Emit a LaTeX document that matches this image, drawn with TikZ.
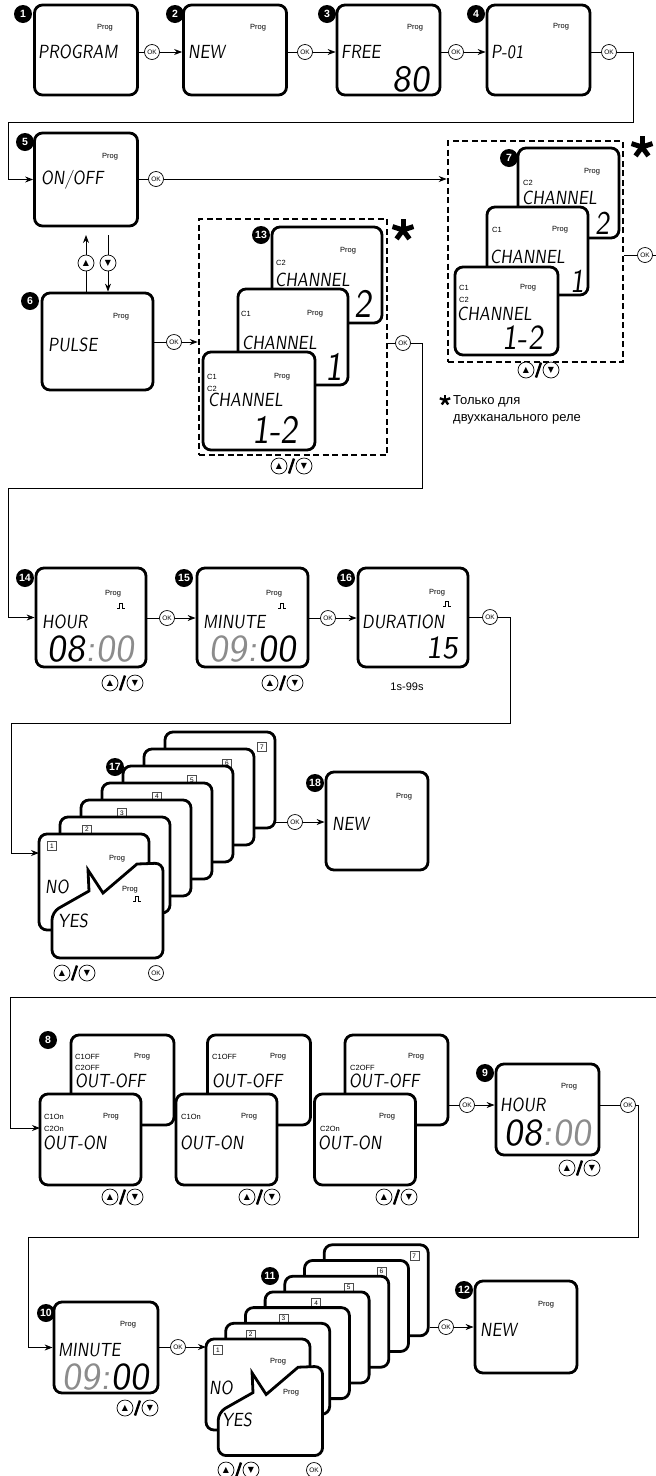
\documentclass[tikz,border=0pt]{standalone}
\usepackage{fontspec}
\setmainfont{Liberation Sans}
\newfontfamily\lcdfont[FakeSlant=0.12,FakeStretch=0.86]{lmsans10-regular.otf}
\newfontfamily\digitfont[FakeSlant=0.12]{lmsans10-regular.otf}
\newfontfamily\symfont{DejaVu Sans}
\usetikzlibrary{arrows.meta, positioning, calc}

\newcommand{\progsize}{\fontsize{7.5}{7.5}\selectfont}
\newcommand{\lcdsize}{\lcdfont\fontsize{19}{19}\selectfont}
\newcommand{\lcdnumsize}{\lcdfont\fontsize{40}{40}\selectfont}
\newcommand{\clocksize}{\digitfont\fontsize{38}{38}\selectfont}

% up / down keys with the slash between them
\newcommand{\keypair}[3]{%
  \node[updownkey] (#1u) at (#2,#3) {▲};
  \node[updownkey] (#1d) at (#2+25,#3) {▼};
  \draw[line width=2.4pt] (#2+10,#3+7.5) -- (#2+15,#3-7.5);}
% pulse sign
\newcommand{\pulsemark}[2]{%
  \draw[line width=0.5pt] (#1-4,#2+2) -- (#1-1.5,#2+2) -- (#1-1.5,#2-2.5)
    -- (#1+1.5,#2-2.5) -- (#1+1.5,#2+2) -- (#1+4,#2+2);}
% bold asterisk
\newcommand{\notestar}[4]{%
  \foreach \a in {90,162,234,306,18}
    \draw[line width=#4] (#1,#2) -- +(-\a:#3);}

\begin{document}
\begin{tikzpicture}[x=1pt, y=-1pt,
    screen/.style={draw, line width=2.8pt, rounded corners=8pt, fill=white, inner sep=0pt,
      minimum width=103pt, minimum height=90pt},
    dashframe/.style={draw, line width=2.6pt, dash pattern=on 6pt off 3.5pt, inner sep=0pt},
    badge/.style={circle, fill=black, text=white, inner sep=0pt, minimum size=18pt,
      font=\bfseries\fontsize{10.5}{10.5}\selectfont},
    okkey/.style={circle, draw, line width=0.7pt, fill=white, inner sep=0pt, minimum size=15pt,
      font=\fontsize{6.5}{6.5}\selectfont},
    updownkey/.style={circle, draw, line width=0.7pt, fill=white, inner sep=0pt, minimum size=16pt,
      font=\symfont\fontsize{8}{8}\selectfont},
    flow/.style={line width=0.9pt},
    flowto/.style={flow, -{Stealth[length=8pt, width=6pt]}},
    prog/.style={inner sep=0pt, font=\progsize},
    chan/.style={inner sep=0pt, anchor=west, font=\progsize},
    lcd/.style={inner sep=0pt, anchor=west, font=\lcdsize},
    lcdnum/.style={inner sep=0pt, font=\lcdnumsize},
    clock/.style={inner sep=0pt, font=\clocksize},
    daynum/.style={draw=black!70, line width=0.4pt, fill=white, inner sep=0pt, minimum size=9pt,
      font=\fontsize{6.5}{6.5}\selectfont},
    note/.style={inner sep=0pt, anchor=west, font=\fontsize{13}{13}\selectfont}
  ]
\useasboundingbox (0,0) rectangle (656,1476);

% ---- row 1: PROGRAM, NEW, FREE, P-01
\node[screen] (s1) at (86,50) {};
\node[badge] (b1) at (23,14) {1};
\node[prog] (s1p) at (105,28) {Prog};
\node[lcd] (s1t) at (38,52) {PROGRAM};
\node[okkey] (ok1) at (152,52) {OK};

\node[screen] (s2) at (235,50) {};
\node[badge] (b2) at (175,14) {2};
\node[prog] (s2p) at (258,28) {Prog};
\node[lcd] (s2t) at (188,52) {NEW};
\node[okkey] (ok2) at (305,52) {OK};

\node[screen] (s3) at (388.5,50) {};
\node[badge] (b3) at (327,14) {3};
\node[prog] (s3p) at (415,28) {Prog};
\node[lcd] (s3t) at (341,52) {FREE};
\node[clock, font=\digitfont\fontsize{37}{37}\selectfont] (s3n) at (411,79) {80};
\node[okkey] (ok3) at (456,52) {OK};

\node[screen] (s4) at (538.5,50) {};
\node[badge] (b4) at (476,14) {4};
\node[prog] (s4p) at (561,27) {Prog};
\node[lcd] (s4t) at (491,52) {P-01};
\node[okkey] (ok4) at (609,52) {OK};

\draw[flow] (ok1 -| s1.east) -- (ok1);
\draw[flowto] (ok1) -- (ok1 -| s2.west);
\draw[flow] (ok2 -| s2.east) -- (ok2);
\draw[flowto] (ok2) -- (ok2 -| s3.west);
\draw[flow] (ok3 -| s3.east) -- (ok3);
\draw[flowto] (ok3) -- (ok3 -| s4.west);
\draw[flow] (ok4 -| s4.east) -- (ok4);

% ---- row 2: ON/OFF and PULSE
\node[screen, minimum height=93pt] (s5) at (86,179.5) {};
\node[badge] (b5) at (25,142) {5};
\node[prog] (s5p) at (110,157) {Prog};
\node[lcd] (s5t) at (41,180) {ON/OFF};
\node[okkey] (ok5) at (156,179) {OK};

\node[screen, minimum width=111pt, minimum height=97pt] (s6) at (97.5,341.5) {};
\node[badge] (b6) at (30,301) {6};
\node[prog] (s6p) at (121,317) {Prog};
\node[lcd] (s6t) at (48,345) {PULSE};
\node[okkey] (ok6) at (174,342) {OK};

\node[updownkey] (kup) at (86,263) {▲};
\node[updownkey] (kdn) at (108,263) {▼};
\coordinate (a5u) at (86,235);
\coordinate (a5d) at (108,235);
\draw[flow] (kup |- s6.north) -- (kup);
\draw[flowto] (kup) -- (a5u);
\draw[flow] (a5d) -- (kdn);
\draw[flowto] (kdn) -- (kdn |- s6.north);

\coordinate (t1) at (633,122);
\coordinate (t2) at (8,122);
\draw[flowto] (ok4) -| (t1) -- (t2) |- (s5.west);

% channel choice after PULSE
\node[dashframe, minimum width=188pt, minimum height=236pt] (g13) at (293,337) {};
\node[screen, minimum width=110pt, minimum height=96pt] (c13a) at (327,275) {};
\node[prog] (c13ap) at (348,251) {Prog};
\node[chan] (c13ac) at (276,263) {C2};
\node[lcd] (c13at) at (275,280) {CHANNEL};
\node[lcdnum] (c13an) at (363,304) {2};
\node[screen, minimum width=110pt, minimum height=96pt] (c13b) at (293,337) {};
\node[chan] (c13bc) at (241,314) {C1};
\node[prog] (c13bp) at (315,314) {Prog};
\node[lcd] (c13bt) at (242,343) {CHANNEL};
\node[lcdnum] (c13bn) at (334,367) {1};
\node[screen, minimum width=112pt, minimum height=98pt] (c13c) at (259,401) {};
\node[chan] (c13cc) at (207,377) {C1};
\node[chan] (c13cd) at (207,389) {C2};
\node[prog] (c13cp) at (282,377) {Prog};
\node[lcd] (c13ct) at (208,400) {CHANNEL};
\node[lcdnum] (c13cn) at (275,430) {1-2};
\node[badge] (b13) at (261,235) {13};
\notestar{403}{230}{11}{5pt}
\keypair{k13}{279}{466}
\node[okkey] (ok13) at (403,343) {OK};
\draw[flowto] (ok6 -| s6.east) -- (ok6) -- (ok6 -| g13.west);
\draw[flow] (ok13 -| g13.east) -- (ok13);

% channel choice after ON/OFF
\node[dashframe, minimum width=175pt, minimum height=221pt] (g7) at (535.5,251.5) {};
\node[screen, minimum width=101pt, minimum height=90pt] (c7a) at (568.5,193) {};
\node[prog] (c7ap) at (592,172) {Prog};
\node[chan] (c7ac) at (523,183) {C2};
\node[lcd] (c7at) at (522,198) {CHANNEL};
\node[lcdnum, font=\lcdfont\fontsize{33}{33}\selectfont] (c7an) at (603,223) {2};
\node[screen, minimum width=101pt, minimum height=88pt] (c7b) at (537.5,251) {};
\node[chan] (c7bc) at (492,230) {C1};
\node[prog] (c7bp) at (560,230) {Prog};
\node[lcd] (c7bt) at (490,257) {CHANNEL};
\node[lcdnum, font=\lcdfont\fontsize{33}{33}\selectfont] (c7bn) at (578,281) {1};
\node[screen, minimum width=103pt, minimum height=88pt] (c7c) at (506.5,311) {};
\node[chan] (c7cc) at (459,288) {C1};
\node[chan] (c7cd) at (459,300) {C2};
\node[prog] (c7cp) at (528,288) {Prog};
\node[lcd] (c7ct) at (457,314) {CHANNEL};
\node[lcdnum, font=\lcdfont\fontsize{35}{35}\selectfont] (c7cn) at (523,338) {1-2};
\node[badge] (b7) at (509,158) {7};
\notestar{642}{147}{11}{5pt}
\keypair{k7}{526}{370}
\node[okkey] (ok7) at (645,255) {OK};
\coordinate (t0) at (656,255);
\draw[flowto] (ok5 -| s5.east) -- (ok5) -- (ok5 -| g7.west);
\draw[flow] (ok7 -| g7.east) -- (ok7) -- (t0);

% note
\notestar{445}{400}{5.5}{2.4pt}
\node[note] (n1) at (453,401) {Только для};
\node[note] (n2) at (453,419) {двухканального реле};

% ---- row 3: HOUR, MINUTE, DURATION
\node[screen, minimum width=110pt, minimum height=99pt] (s14) at (91,617.5) {};
\node[badge] (b14) at (25,578) {14};
\node[prog] (s14p) at (113,594) {Prog};
\pulsemark{121}{606}
\node[lcd] (s14t) at (42,622) {HOUR};
\node[clock] (s14n) at (91,649) {08{\color{black!45}:00}};
\node[okkey] (ok14) at (167,618) {OK};
\keypair{k14}{110}{683}

\node[screen, minimum width=111pt, minimum height=99pt] (s15) at (252.5,617.5) {};
\node[badge] (b15) at (184,578) {15};
\node[prog] (s15p) at (274,594) {Prog};
\pulsemark{282}{606}
\node[lcd] (s15t) at (203,622) {MINUTE};
\node[clock] (s15n) at (253,649) {{\color{black!45}09:}00};
\node[okkey] (ok15) at (328,618) {OK};
\keypair{k15}{270}{683}

\node[screen, minimum width=110pt, minimum height=99pt] (s16) at (413,617.5) {};
\node[badge] (b16) at (346,578) {16};
\node[prog] (s16p) at (437,593) {Prog};
\pulsemark{447}{604}
\node[lcd] (s16t) at (362,622) {DURATION};
\node[clock, font=\digitfont\fontsize{32}{32}\selectfont] (s16n) at (442,648) {15};
\node[okkey] (ok16) at (490,617) {OK};
\node[inner sep=0pt, font=\fontsize{11}{11}\selectfont] (s16r) at (407,687) {1s-99s};

\coordinate (t3) at (422,488);
\coordinate (t4) at (8,488);
\draw[flowto] (ok13) -| (t3) -- (t4) |- (s14.west);
\draw[flow] (ok14 -| s14.east) -- (ok14);
\draw[flowto] (ok14) -- (ok14 -| s15.west);
\draw[flow] (ok15 -| s15.east) -- (ok15);
\draw[flowto] (ok15) -- (ok15 -| s16.west);
\draw[flow] (ok16 -| s16.east) -- (ok16);

% ---- row 4: days 1..7, NEW
\foreach \k in {7,6,...,1} {
  \node[screen, minimum width=110pt, minimum height=96pt] (c17-\k) at ({94+21*(\k-1)}, {882-17*(\k-1)}) {};
  \node[daynum] (d17-\k) at ({52+35*(\k-1)}, {846-16.5*(\k-1)}) {\k};
}
\node[prog] (c17p) at (117,859) {Prog};
\node[lcd] (c17t) at (45,887) {NO};
\begin{scope}[shift={(39,834)}]
  \draw[line width=2.8pt, fill=white] (13,78) -- (50,57) -- (49,36) -- (64,59) -- (98,30)
    [rounded corners=8pt] -- (124,29) -- (124,124) -- (13,124) -- cycle;
\end{scope}
\node[prog] (y17p) at (130,890) {Prog};
\pulsemark{137}{899}
\node[lcd] (y17t) at (58,921) {YES};
\node[badge] (b17) at (115,767) {17};
\keypair{k17}{62}{973}
\node[okkey] (ok17b) at (156,973) {OK};
\node[okkey] (ok17) at (295,822) {OK};

\node[screen, minimum width=102pt, minimum height=98pt] (s18) at (377,821) {};
\node[badge] (b18) at (315,783) {18};
\node[prog] (s18p) at (404,797) {Prog};
\node[lcd] (s18t) at (332,824) {NEW};

\coordinate (t5) at (510,723);
\coordinate (t6) at (11,723);
\coordinate (e17) at (39,853);
\draw[flowto] (ok16) -| (t5) -- (t6) |- (e17);
\draw[flow] (ok17 -| c17-7.east) -- (ok17);
\draw[flowto] (ok17) -- (ok17 -| s18.west);

% ---- row 5: OUT-ON / OUT-OFF, HOUR
\node[screen] (off1) at (122.5,1080) {};
\node[chan] (off1a) at (75,1057) {C1OFF};
\node[prog] (off1p) at (142,1057) {Prog};
\node[chan] (off1b) at (75,1068) {C2OFF};
\node[lcd] (off1t) at (75,1081) {OUT-OFF};
\node[screen, minimum width=101pt, minimum height=91pt] (on1) at (90.5,1139.5) {};
\node[chan] (on1a) at (44,1117) {C1On};
\node[prog] (on1p) at (111,1117) {Prog};
\node[chan] (on1b) at (44,1129) {C2On};
\node[lcd] (on1t) at (43,1143) {OUT-ON};
\node[badge] (b8) at (48,1040) {8};
\keypair{k8a}{110}{1197}

\node[screen] (off2) at (259,1080) {};
\node[chan] (off2a) at (212,1057) {C1OFF};
\node[prog] (off2p) at (278,1057) {Prog};
\node[lcd] (off2t) at (212,1081) {OUT-OFF};
\node[screen, minimum width=101pt, minimum height=91pt] (on2) at (226.5,1139.5) {};
\node[chan] (on2a) at (181,1117) {C1On};
\node[prog] (on2p) at (249,1117) {Prog};
\node[lcd] (on2t) at (180,1143) {OUT-ON};
\keypair{k8b}{247}{1197}

\node[screen] (off3) at (396.5,1080) {};
\node[prog] (off3p) at (416,1057) {Prog};
\node[chan] (off3b) at (350,1068) {C2OFF};
\node[lcd] (off3t) at (349,1081) {OUT-OFF};
\node[screen, minimum width=101pt, minimum height=91pt] (on3) at (365,1139.5) {};
\node[prog] (on3p) at (387,1117) {Prog};
\node[chan] (on3b) at (320,1129) {C2On};
\node[lcd] (on3t) at (318,1143) {OUT-ON};
\keypair{k8c}{384}{1197}
\node[okkey] (ok8) at (467,1105) {OK};

\node[screen, minimum height=91pt] (s9) at (547.5,1109.5) {};
\node[badge] (b9) at (485,1073) {9};
\node[prog] (s9p) at (569,1087) {Prog};
\node[lcd] (s9t) at (500,1105) {HOUR};
\node[clock] (s9n) at (548,1133) {08{\color{black!45}:00}};
\keypair{k9}{567}{1168}
\node[okkey] (ok9) at (628,1105) {OK};

\coordinate (t7) at (656,997);
\coordinate (t8) at (10,997);
\coordinate (e8) at (40,1128);
\draw[flowto] (t7) -- (t8) |- (e8);
\draw[flow] (ok8 -| off3.east) -- (ok8);
\draw[flowto] (ok8) -- (ok8 -| s9.west);
\draw[flow] (ok9 -| s9.east) -- (ok9);

% ---- row 6: MINUTE, days 1..7, NEW
\node[screen, minimum width=104pt, minimum height=91pt] (s10) at (106,1347.5) {};
\node[badge] (b10) at (46,1313) {10};
\node[prog] (s10p) at (128,1325) {Prog};
\node[lcd] (s10t) at (58,1350) {MINUTE};
\node[clock] (s10n) at (106,1377) {{\color{black!45}09:}00};
\keypair{k10}{125}{1408}
\node[okkey] (ok10) at (178,1347) {OK};

\foreach \k in {7,6,...,1} {
  \node[screen, minimum width=104pt, minimum height=91pt] (c11-\k) at ({258+19.7*(\k-1)}, {1384.5-15.7*(\k-1)}) {};
  \node[daynum] (d11-\k) at ({218+32.7*(\k-1)}, {1350-15.7*(\k-1)}) {\k};
}
\node[prog] (c11p) at (278,1362) {Prog};
\node[lcd] (c11t) at (209,1388) {NO};
\begin{scope}[shift={(206,1339)}, scale=0.94]
  \draw[line width=2.8pt, fill=white] (13,78) -- (50,57) -- (49,36) -- (64,59) -- (98,30)
    [rounded corners=8pt] -- (124,29) -- (124,124) -- (13,124) -- cycle;
\end{scope}
\node[prog] (y11p) at (291,1393) {Prog};
\node[lcd] (y11t) at (222,1420) {YES};
\node[badge] (b11) at (270,1276) {11};
\keypair{k11}{226}{1470}
\node[okkey] (ok11b) at (314,1470) {OK};
\node[okkey] (ok11) at (446,1327) {OK};

\node[screen, minimum width=102pt, minimum height=92pt] (s12) at (526,1327) {};
\node[badge] (b12) at (464,1290) {12};
\node[prog] (s12p) at (546,1305) {Prog};
\node[lcd] (s12t) at (480,1330) {NEW};

\coordinate (t9) at (638,1237);
\coordinate (t10) at (28,1237);
\coordinate (e11) at (206,1347);
\draw[flowto] (ok9) -| (t9) -- (t10) |- (s10.west);
\draw[flow] (ok10 -| s10.east) -- (ok10);
\draw[flowto] (ok10) -- (e11);
\draw[flow] (ok11 -| c11-7.east) -- (ok11);
\draw[flowto] (ok11) -- (ok11 -| s12.west);
\end{tikzpicture}
\end{document}
